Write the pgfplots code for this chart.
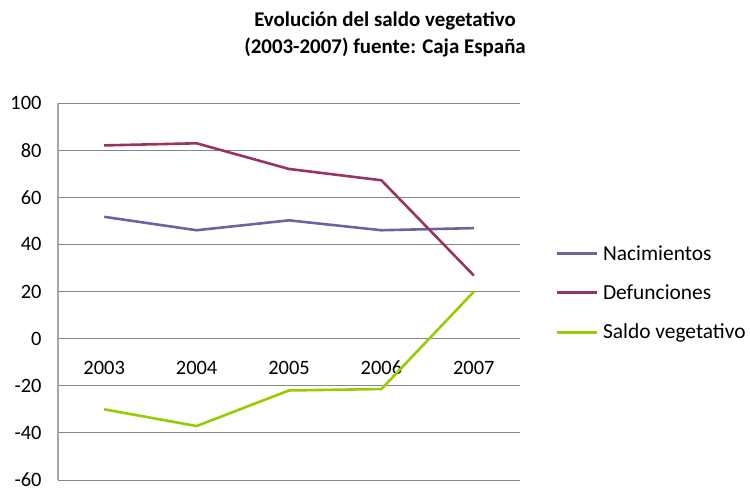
\documentclass[border=0pt]{standalone}
\usepackage{fontspec}
\setmainfont{Carlito}
\usepackage{pgfplots}
\pgfplotsset{compat=1.18}
\definecolor{nac}{HTML}{6666A0}
\definecolor{def}{HTML}{993366}
\definecolor{sal}{HTML}{99CC00}
\definecolor{gridc}{HTML}{868686}
\definecolor{axc}{HTML}{A6A6A6}
\begin{document}
\begin{tikzpicture}
\path[use as bounding box] (0,0) rectangle (750bp,488bp);
\begin{axis}[
 at={(58bp,8bp)}, anchor=south west,
 scale only axis, width=462bp, height=377bp,
 xmin=-0.5, xmax=4.5, ymin=-60, ymax=100,
 ytick={-60,-40,...,100},
 xtick={0,...,4}, xticklabels={2003,2004,2005,2006,2007},
 axis x line*=middle, axis y line*=left,
 ymajorgrids, grid style={gridc, line width=0.8bp},
 x axis line style={gridc, line width=0.8bp},
 y axis line style={axc, line width=1.2bp},
 major tick length=0pt,
 tick label style={font=\fontsize{20.5}{24}\selectfont},
 /pgf/number format/assume math mode=true,
 x tick label style={yshift=-19bp},
 y tick label style={xshift=-13bp},
 legend style={at={(1.0758,0.496)}, anchor=west, draw=none, fill=none, font=\fontsize{21.5}{25}\selectfont, row sep=19bp, inner sep=0pt},
 legend cell align=left,
 legend image code/.code={\draw[#1, line width=3bp] (0,0) -- (40bp,0); \path (43bp,0);},
]
\addplot[nac, line width=2.6bp] coordinates {(0,51.7) (1,46.0) (2,50.2) (3,46.0) (4,46.9)};
\addlegendentry{Nacimientos}
\addplot[def, line width=2.6bp] coordinates {(0,82.0) (1,82.9) (2,72.0) (3,67.2) (4,26.8)};
\addlegendentry{Defunciones}
\addplot[sal, line width=2.6bp] coordinates {(0,-30.0) (1,-37.1) (2,-22.0) (3,-21.4) (4,19.9)};
\addlegendentry{Saldo vegetativo}
\end{axis}
\node[font=\bfseries\fontsize{21}{27}\selectfont, align=center] at (385bp,454bp) {Evolución del saldo vegetativo\\(2003-2007) fuente: Caja España};
\end{tikzpicture}
\end{document}
